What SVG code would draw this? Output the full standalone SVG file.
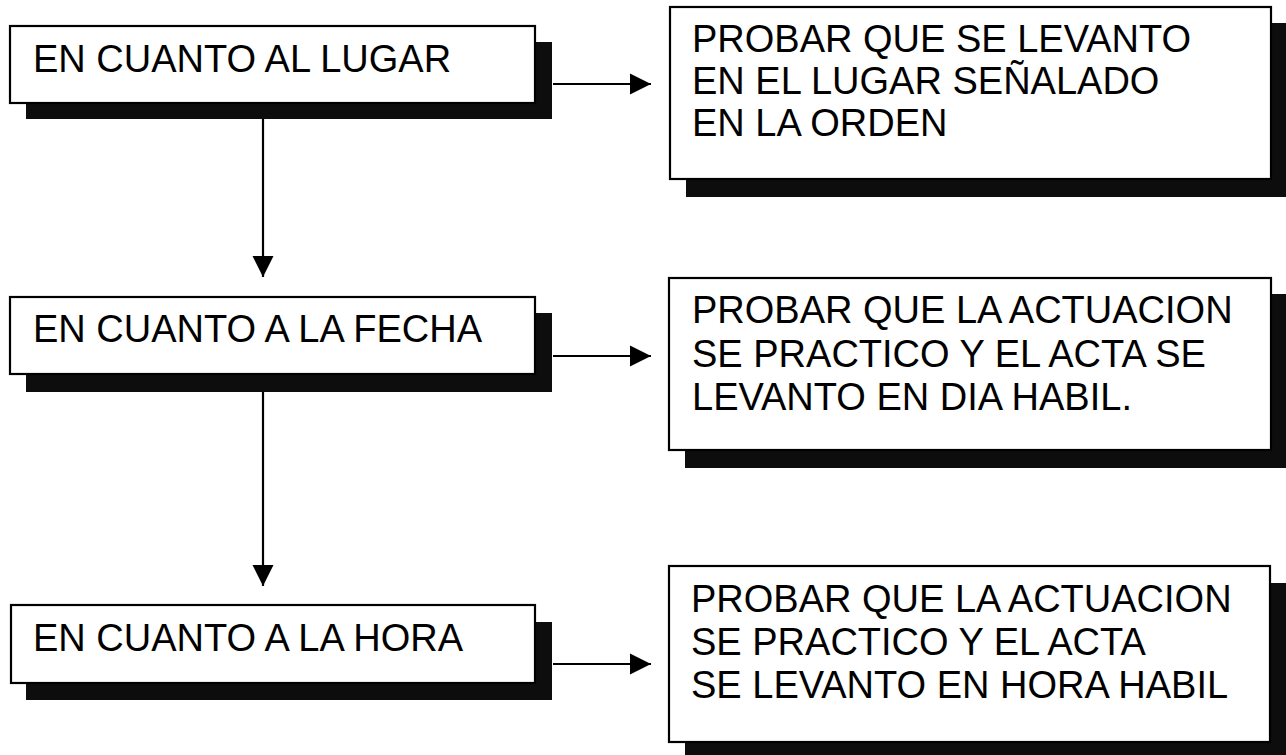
<svg xmlns="http://www.w3.org/2000/svg" width="1286" height="755" viewBox="0 0 1286 755">
<style>
.box{fill:#fff;stroke:#000;stroke-width:2.2}
.shadow{fill:#0d0d0d}
.lbl{font-family:"Liberation Sans",Arial,sans-serif;font-size:38px;fill:#000}
.conn{stroke:#000;stroke-width:2.2;fill:none}
</style>
<defs>
<marker id="arr" markerUnits="userSpaceOnUse" markerWidth="22" markerHeight="22" viewBox="0 0 22 22" refX="21" refY="11" orient="auto">
<path d="M0,0.5 L21,11 L0,21.5 Z" fill="#000"/>
</marker>
</defs>
<rect width="1286" height="755" fill="#fff"/>
<g id="connectors">
<line class="conn" x1="553" y1="84" x2="651" y2="84" marker-end="url(#arr)"/>
<line class="conn" x1="553" y1="356" x2="651" y2="356" marker-end="url(#arr)"/>
<line class="conn" x1="553" y1="664" x2="651" y2="664" marker-end="url(#arr)"/>
<line class="conn" x1="263" y1="119" x2="263" y2="277" marker-end="url(#arr)"/>
<line class="conn" x1="263" y1="392" x2="263" y2="586" marker-end="url(#arr)"/>
</g>
<g id="n-lugar">
<rect class="shadow" x="26" y="42" width="526" height="77"/>
<rect class="box" x="10" y="26" width="525" height="77"/>
<text class="lbl" x="33" y="72">EN CUANTO AL LUGAR</text>
</g>
<g id="n-fecha">
<rect class="shadow" x="26" y="313" width="526" height="79"/>
<rect class="box" x="10" y="297" width="525" height="77"/>
<text class="lbl" x="33" y="342">EN CUANTO A LA FECHA</text>
</g>
<g id="n-hora">
<rect class="shadow" x="26" y="622" width="526" height="78"/>
<rect class="box" x="11" y="605" width="524" height="78"/>
<text class="lbl" x="33" y="651">EN CUANTO A LA HORA</text>
</g>
<g id="r-lugar">
<rect class="shadow" x="686" y="23" width="601" height="174"/>
<rect class="box" x="670" y="7" width="601" height="172"/>
<text class="lbl" x="692" y="52">PROBAR QUE SE LEVANTO</text>
<text class="lbl" x="692" y="94">EN EL LUGAR SEÑALADO</text>
<text class="lbl" x="692" y="136">EN LA ORDEN</text>
</g>
<g id="r-fecha">
<rect class="shadow" x="685" y="294" width="602" height="174"/>
<rect class="box" x="669" y="278" width="602" height="172"/>
<text class="lbl" x="692" y="323">PROBAR QUE LA ACTUACION</text>
<text class="lbl" x="692" y="367">SE PRACTICO Y EL ACTA SE</text>
<text class="lbl" x="692" y="410">LEVANTO EN DIA HABIL.</text>
</g>
<g id="r-hora">
<rect class="shadow" x="685" y="583" width="602" height="176"/>
<rect class="box" x="669" y="566" width="601" height="176"/>
<text class="lbl" x="691" y="612">PROBAR QUE LA ACTUACION</text>
<text class="lbl" x="691" y="655">SE PRACTICO Y EL ACTA</text>
<text class="lbl" x="691" y="698">SE LEVANTO EN HORA HABIL</text>
</g>
</svg>
